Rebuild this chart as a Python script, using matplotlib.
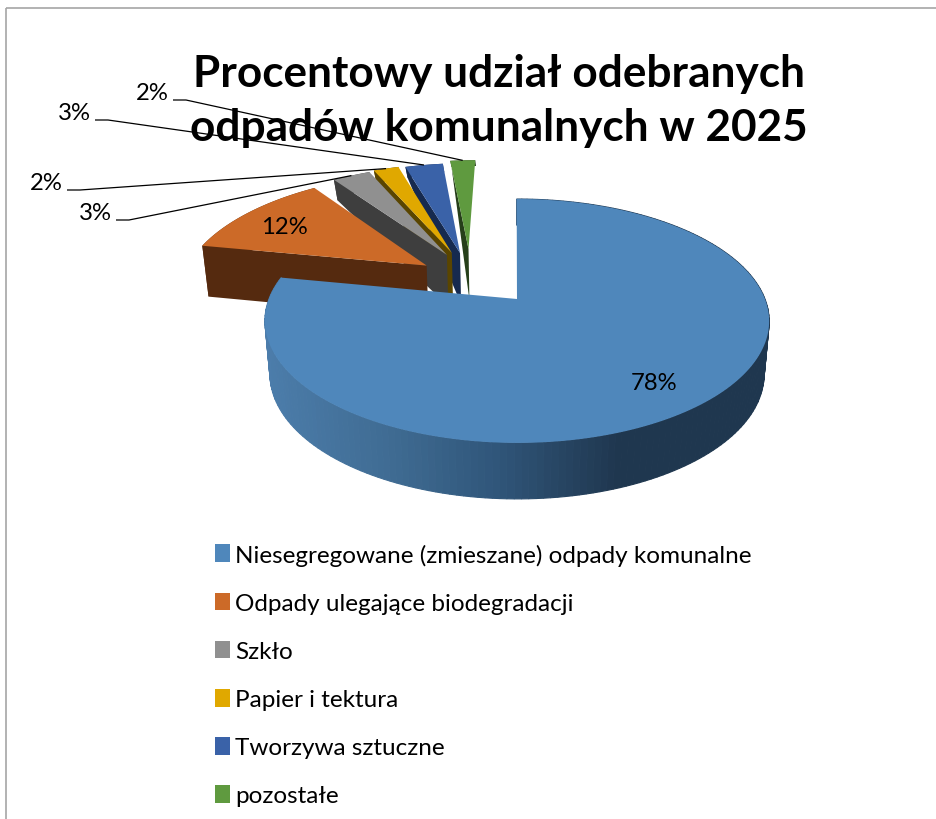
#!/usr/bin/env python3

import numpy as np
import matplotlib
matplotlib.use('Agg')
import matplotlib.pyplot as plt
from matplotlib.colors import LinearSegmentedColormap
from matplotlib.patches import Patch, Polygon, Rectangle

plt.rcParams['font.family'] = ['Lato', 'DejaVu Sans']

title = 'Procentowy udział odebranych\nodpadów komunalnych w 2025'
categories = ['Niesegregowane (zmieszane) odpady komunalne', 'Odpady ulegające biodegradacji',
              'Szkło', 'Papier i tektura', 'Tworzywa sztuczne', 'pozostałe']
shares = [78, 12, 3, 2, 3, 2]

top_colors = ['#4f87bb', '#cc6a28', '#909090', '#e0a800', '#3a62a8', '#5f9a3f']
side_colors = ['#2e5578', '#552a0f', '#3e3e3e', '#5a4500', '#162a4f', '#263f1a']

# explosion of each slice in the plane of the pie, and the main slice sits a bit lower
explode_u = [0.008, -0.37, -0.29, -0.27, -0.235, -0.2]
explode_v = [0.0, 0.215, 0.314, 0.333, 0.333, 0.371]
shift_y = [9, 0, 0, 0, 0, 0]

# perspective of the pie, all in pixels
x0, y0 = 515, 291
scale_x, scale_y, persp = 248, 118, 0.18

label_xy = [(654, 384), (284, 227), (95, 214), (46, 184), (74, 114), (152, 94)]

fig = plt.figure(figsize=(9.36, 8.2), dpi=100)
ax = fig.add_axes([0, 0, 1, 1])
ax.set_xlim(0, 936)
ax.set_ylim(820, 0)
ax.axis('off')

ax.add_patch(Rectangle((6, 9), 1000, 1000, facecolor='none', edgecolor='#a6a6a6', linewidth=1.2))


def project(u, v, dy=0.0):
    w = 1 + persp * v
    return x0 + scale_x * u / w, y0 + dy - scale_y * v / w


def depth(v):
    return np.interp(v, [-1, 0.4, 1.1, 1.4], [56, 51, 22, 4])


def project_bottom(u, v, dy=0.0):
    x, y = project(u, v, dy)
    return x0 + (x - x0) * 0.98, y + depth(v)


def rim(t, i):
    return np.sin(t) + explode_u[i], np.cos(t) + explode_v[i]


edges = np.radians(np.concatenate(([0], np.cumsum(shares))) * 3.6)
side_cmap = LinearSegmentedColormap.from_list(
    'side', [(0, '#4c7dab'), (0.26, '#3f6b92'), (0.46, '#30567a'), (0.7, '#1f374f'), (1, '#1f374f')])

# back to front: the small slices first, the big one last
for i in [5, 4, 3, 2, 1, 0]:
    t = np.linspace(edges[i], edges[i + 1], 200)
    u, v = rim(t, i)
    xt, yt = project(u, v, shift_y[i])
    xb, yb = project_bottom(u, v, shift_y[i])
    ua, va = explode_u[i], explode_v[i]
    xa, ya = project(ua, va, shift_y[i])
    xab, yab = project_bottom(ua, va, shift_y[i])

    if i == 0:
        # outer wall of the big slice gets a left to right shade
        for j in range(len(t) - 1):
            c = side_cmap(np.clip((xb[j] - 267) / 503, 0, 1))
            ax.add_patch(Polygon([(xt[j], yt[j]), (xt[j + 1], yt[j + 1]), (xb[j + 1], yb[j + 1]), (xb[j], yb[j])],
                                 facecolor=c, edgecolor=c, linewidth=0.8))
    else:
        wall = list(zip(xt, yt)) + list(zip(xb, yb))[::-1]
        ax.add_patch(Polygon(wall, facecolor=side_colors[i], edgecolor='none'))
        ax.add_patch(Polygon([(xa, ya), (xt[0], yt[0]), (xb[0], yb[0]), (xab, yab)],
                             facecolor=side_colors[i], edgecolor='none'))

    ax.add_patch(Polygon([(xa, ya)] + list(zip(xt, yt)), facecolor=top_colors[i], edgecolor='none'))

# labels, the four small slices have leader lines
for i, s in enumerate(shares):
    ax.text(label_xy[i][0], label_xy[i][1], f'{s}%', fontsize=17.2, color='black', ha='center', va='center')
    if i >= 2:
        mid = (edges[i] + edges[i + 1]) / 2
        xm, ym = project(*rim(mid, i))
        lx, ly = label_xy[i][0] + 21, label_xy[i][1] + 7
        ax.plot([lx, lx + 13, xm], [ly, ly, ym], color='black', linewidth=0.9, solid_capstyle='butt')

ax.text(499, 101, title, fontsize=31.8, fontweight='bold', ha='center', va='center', linespacing=1.43)

handles = [Patch(facecolor=c, edgecolor='none') for c in top_colors]
ax.legend(handles, categories, loc='upper left', bbox_to_anchor=(205 / 936, 1 - 535 / 820), frameon=False,
          fontsize=17.5, handlelength=0.62, handleheight=0.75, handletextpad=0.22, labelspacing=1.10,
          borderpad=0, borderaxespad=0.4)

plt.savefig('out.png', dpi=100)
